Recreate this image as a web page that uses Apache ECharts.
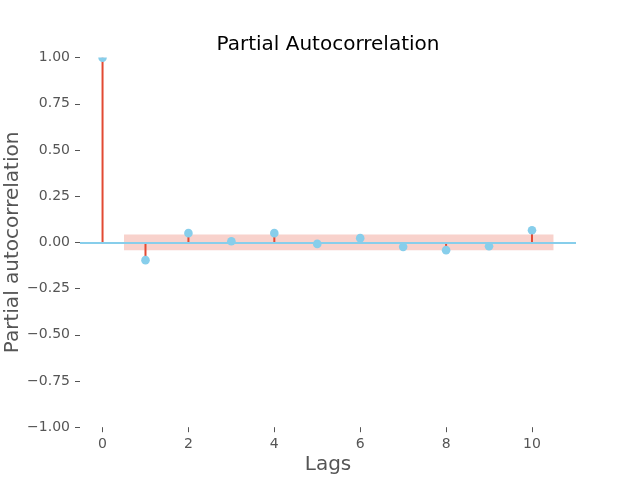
<!DOCTYPE html>
<html>
<head>
<meta charset="utf-8">
<script src="https://cdn.jsdelivr.net/npm/echarts@6/dist/echarts.min.js"></script>
<style>
  html, body { margin: 0; padding: 0; background: #fff; }
  #chart { width: 640px; height: 480px; }
</style>
</head>
<body>
<div id="chart"></div>
<script>
// partial autocorrelation per lag
const lags = [0, 1, 2, 3, 4, 5, 6, 7, 8, 9, 10]
const pacfValues = [1.0, -0.096, 0.050, 0.006, 0.050, -0.008, 0.023, -0.024, -0.042, -0.021, 0.066]
// confidence band (lags 1..10, widened by half a lag each side)
const bandLags = [0.5, 10.5]
const bandBound = 0.0425
const xTicks = [0, 2, 4, 6, 8, 10]

const stemColor = '#e24a33'
const markerColor = '#87ceeb'
const textColor = '#555555'
const fontFamily = 'DejaVu Sans'

const points = lags.map((lag, i) => [lag, pacfValues[i]])

const chart = echarts.init(document.getElementById('chart'))

const option = {
  backgroundColor: '#fff',
  animation: false,
  title: {
    text: 'Partial Autocorrelation',
    left: 323,
    textAlign: 'center',
    top: 30,
    textStyle: {
      color: '#000',
      fontFamily: fontFamily,
      fontSize: 20,
      fontWeight: 'normal'
    }
  },
  grid: {
    left: 80,
    right: 64,
    top: 57.6,
    bottom: 52.8,
    containLabel: false,
    outerBoundsMode: 'none'
  },
  xAxis: {
    type: 'value',
    min: -0.525,
    max: 11.025,
    name: 'Lags',
    nameLocation: 'middle',
    nameGap: 28,
    nameMoveOverlap: false,
    nameTextStyle: { color: textColor, fontFamily: fontFamily, fontSize: 20 },
    axisLine: { show: false, onZero: false },
    splitLine: { show: false },
    axisTick: {
      show: true,
      length: 5,
      customValues: xTicks,
      lineStyle: { color: textColor, width: 1 }
    },
    axisLabel: {
      customValues: xTicks,
      color: textColor,
      fontFamily: fontFamily,
      fontSize: 14,
      margin: 10
    }
  },
  yAxis: {
    type: 'value',
    min: -1,
    max: 1,
    interval: 0.25,
    name: 'Partial autocorrelation',
    nameLocation: 'middle',
    nameGap: 57,
    nameMoveOverlap: false,
    nameTextStyle: { color: textColor, fontFamily: fontFamily, fontSize: 20 },
    axisLine: { show: false, onZero: false },
    splitLine: { show: false },
    axisTick: {
      show: true,
      length: 5,
      lineStyle: { color: textColor, width: 1 }
    },
    axisLabel: {
      color: textColor,
      fontFamily: fontFamily,
      fontSize: 14,
      margin: 10,
      formatter: v => v.toFixed(2).replace('-', '\u2212')
    }
  },
  series: [
    {
      // confidence band
      type: 'line',
      data: [],
      z: 1,
      markArea: {
        silent: true,
        itemStyle: { color: 'rgba(226,74,51,0.25)' },
        data: [[
          { coord: [bandLags[0], -bandBound] },
          { coord: [bandLags[1], bandBound] }
        ]]
      }
    },
    {
      // stems
      type: 'custom',
      z: 2,
      clip: true,
      data: points,
      renderItem: (params, api) => {
        const base = api.coord([api.value(0), 0])
        const top = api.coord([api.value(0), api.value(1)])
        return {
          type: 'line',
          shape: { x1: base[0], y1: base[1], x2: top[0], y2: top[1] },
          style: { stroke: stemColor, lineWidth: 2 }
        }
      }
    },
    {
      // zero line
      type: 'line',
      data: [],
      z: 3,
      markLine: {
        silent: true,
        symbol: 'none',
        label: { show: false },
        lineStyle: { color: markerColor, width: 2, type: 'solid' },
        data: [{ yAxis: 0 }]
      }
    },
    {
      // markers
      type: 'custom',
      z: 4,
      clip: true,
      data: points,
      renderItem: (params, api) => {
        const p = api.coord([api.value(0), api.value(1)])
        return {
          type: 'circle',
          shape: { cx: p[0], cy: p[1], r: 4.3 },
          style: { fill: markerColor }
        }
      }
    }
  ]
}

chart.setOption(option)

window.addEventListener('resize', () => {
  chart.resize()
})
</script>
</body>
</html>
